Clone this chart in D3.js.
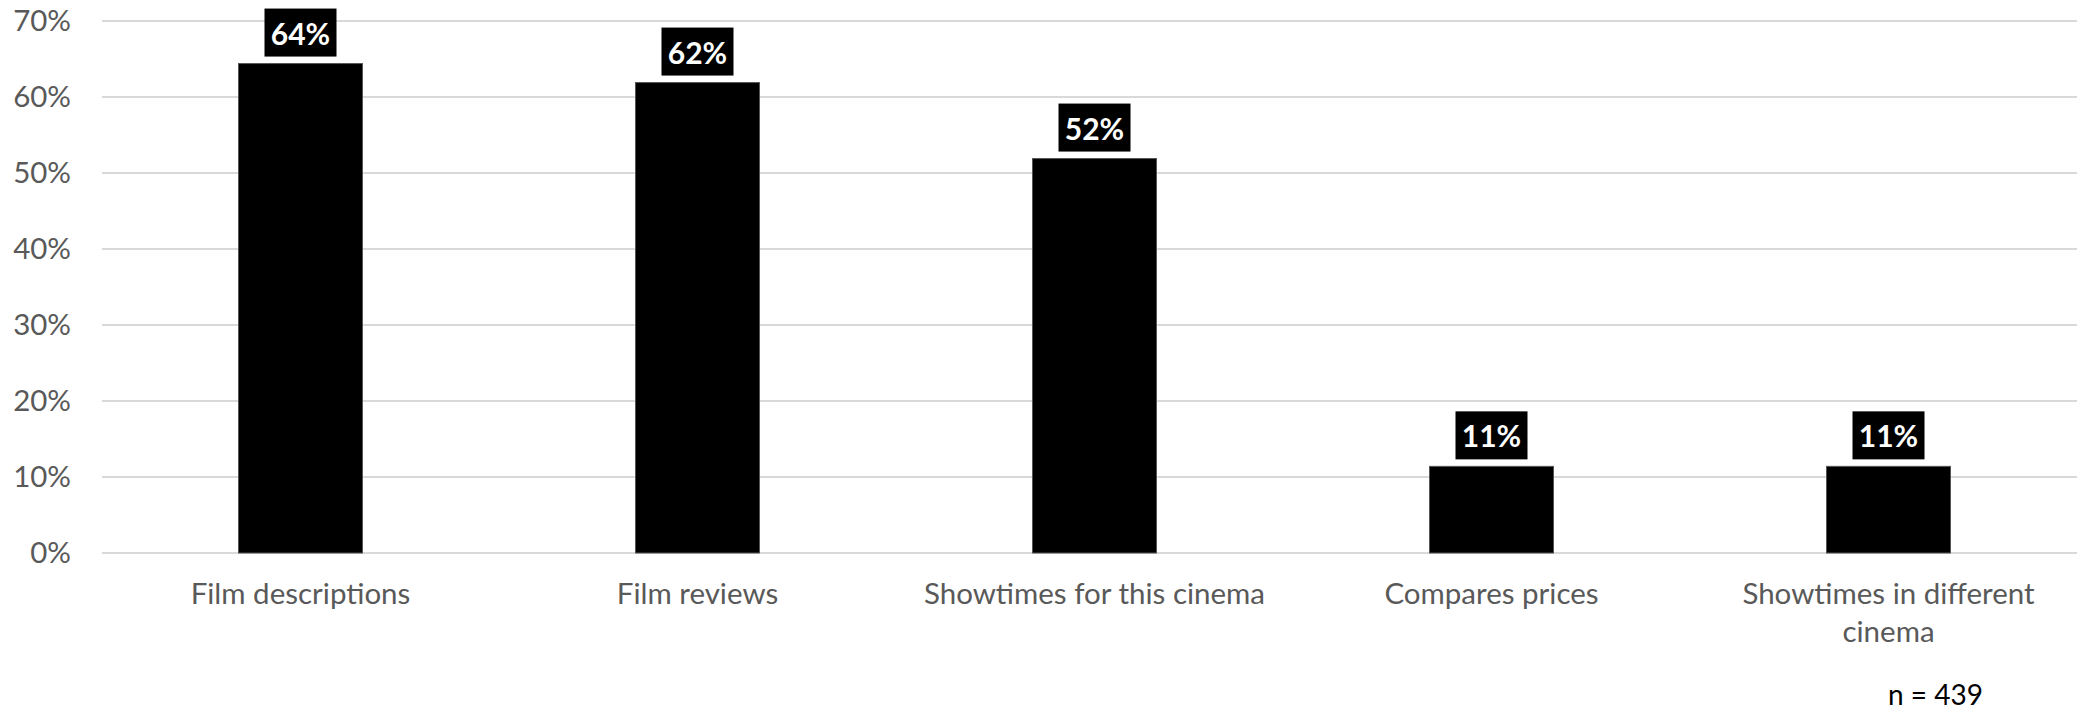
<!DOCTYPE html>
<html>
<head>
<meta charset="utf-8">
<script src="https://cdn.jsdelivr.net/npm/d3@7"></script>
<style>
  html, body { margin: 0; padding: 0; background: #fff; }
  svg { display: block; }
  text { font-family: Lato, "Open Sans", sans-serif; }
</style>
</head>
<body>
<svg id="chart" width="2077" height="712"></svg>
<script>
const categories = ["Film descriptions", "Film reviews", "Showtimes for this cinema", "Compares prices", "Showtimes in different cinema"];
const values = [0.644, 0.619, 0.519, 0.114, 0.114];
const valueLabels = ["64%", "62%", "52%", "11%", "11%"];
const yTicks = [0, 0.1, 0.2, 0.3, 0.4, 0.5, 0.6, 0.7];
const note = "n = 439";

const svg = d3.select("#chart");
const W = 2077, H = 712;
const mLeft = 102, mRight = 2087, mTop = 21, mBottom = 553;

const x = d3.scaleBand().domain(categories).range([mLeft, mRight]).paddingInner(0.6877).paddingOuter(0.6877 / 2);
const y = d3.scaleLinear().domain([0, 0.7]).range([mBottom, mTop]);

// gridlines
svg.append("g").selectAll("line").data(yTicks).join("line")
  .attr("x1", mLeft).attr("x2", W)
  .attr("y1", d => y(d)).attr("y2", d => y(d))
  .attr("stroke", "#d9d9d9").attr("stroke-width", 2);

// y axis labels
const yAxis = d3.axisLeft(y).tickValues(yTicks).tickFormat(d3.format(".0%")).tickSize(0).tickPadding(31);
const yg = svg.append("g").attr("transform", `translate(${mLeft},0)`).call(yAxis);
yg.select(".domain").remove();
yg.selectAll("text").attr("fill", "#595959").style("font-size", "29.5px").style("font-family", "Lato, 'Open Sans', sans-serif");

// bars
svg.append("g").selectAll("rect").data(categories).join("rect")
  .attr("x", d => x(d)).attr("width", x.bandwidth())
  .attr("y", (d, i) => y(values[i])).attr("height", (d, i) => y(0) - y(values[i]))
  .attr("fill", "#000").attr("stroke", "#555").attr("stroke-width", 1);

// value labels with black boxes
const lg = svg.append("g");
categories.forEach((c, i) => {
  const cx = x(c) + x.bandwidth() / 2;
  const boxBottom = y(values[i]) - 7;
  const boxH = 48;
  const g = lg.append("g");
  const rect = g.append("rect").attr("fill", "#000");
  const t = g.append("text").text(valueLabels[i])
    .attr("x", cx).attr("y", boxBottom - boxH / 2)
    .attr("text-anchor", "middle").attr("dominant-baseline", "central")
    .attr("fill", "#fff").style("font-weight", "bold").style("font-size", "30px");
  const bw = 72;
  rect.attr("x", cx - bw / 2).attr("y", boxBottom - boxH).attr("width", bw).attr("height", boxH);
});

// category labels (wrapped)
const xg = svg.append("g");
const maxW = 365;
categories.forEach(c => {
  const cx = x(c) + x.bandwidth() / 2;
  const t = xg.append("text").attr("text-anchor", "middle").attr("fill", "#595959").style("font-size", "29.5px");
  const words = c.split(" ");
  let line = [], lineNo = 0;
  let ts = t.append("tspan").attr("x", cx).attr("y", 604);
  words.forEach(w => {
    line.push(w);
    ts.text(line.join(" "));
    if (ts.node().getComputedTextLength() > maxW && line.length > 1) {
      line.pop();
      ts.text(line.join(" "));
      line = [w];
      lineNo++;
      ts = t.append("tspan").attr("x", cx).attr("y", 604 + lineNo * 38).text(w);
    }
  });
});

// note
svg.append("text").text(note).attr("x", 1888).attr("y", 705)
  .attr("fill", "#000").style("font-size", "28px");
</script>
</body>
</html>
